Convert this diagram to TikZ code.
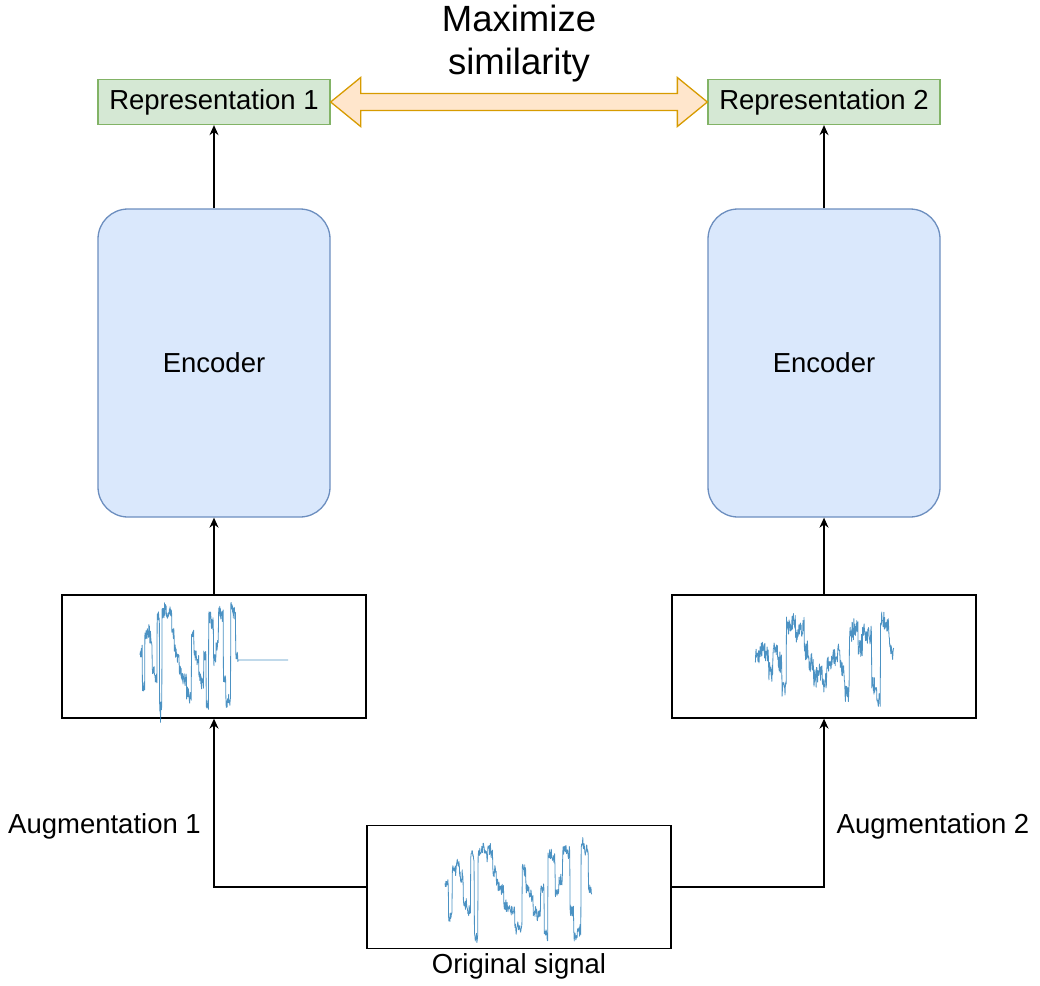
\documentclass[tikz,border=0pt]{standalone}
\usepackage{fontspec}
\setmainfont{Liberation Sans}
\usetikzlibrary{arrows.meta}

\definecolor{repfill}{HTML}{D5E8D4}
\definecolor{repline}{HTML}{82B366}
\definecolor{encfill}{HTML}{DAE8FC}
\definecolor{encline}{HTML}{6C8EBF}
\definecolor{simfill}{HTML}{FFE6CC}
\definecolor{simline}{HTML}{D79B00}
\definecolor{trace}{RGB}{31,119,180}

% signal levels (0 = bottom, 1 = top of the trace band)
\def\origlv{{0.55,0.22,0.7,0.75,0.65,0.35,0.3,0.85,0.03,0.9,0.92,0.88,0.9,0.7,0.55,0.5,0.35,0.3,0.28,0.15,0.12,0.7,0.5,0.45,0.3,0.25,0.5,0.05,0.85,0.8,0.45,0.6,0.9,0.88,0.3,0.05,0.1,0.95,0.9,0.5,0.5}}
\def\augtwolv{{0.5,0.6,0.55,0.35,0.6,0.45,0.15,0.8,0.85,0.75,0.8,0.55,0.45,0.3,0.35,0.25,0.45,0.5,0.55,0.4,0.15,0.75,0.8,0.6,0.75,0.7,0.2,0.1,0.85,0.8,0.55,0.55}}

\tikzset{
  base/.style={font=\fontsize{27.5}{33}\selectfont, inner sep=0pt},
  repbox/.style={base, draw=repline, fill=repfill, line width=1.3pt,
    minimum width=232pt, minimum height=45pt},
  encbox/.style={base, draw=encline, fill=encfill, line width=1.3pt,
    rounded corners=30pt, minimum width=232pt, minimum height=308pt},
  sigbox/.style={draw=black, line width=1.3pt, inner sep=0pt,
    minimum width=304pt, minimum height=123pt},
  lbl/.style={base},
  flow/.style={draw=black, line width=1.3pt, -{Stealth[length=10pt,width=9pt]}},
  sig/.style={draw=trace, line width=0.8pt, opacity=0.8, line join=round},
}

\begin{document}
\begin{tikzpicture}[x=1pt, y=-1pt]
\path[use as bounding box] (0,0) rectangle (1040,985);

% representations
\node[repbox] (rep1) at (214,102) {Representation 1};
\node[repbox] (rep2) at (824,102) {Representation 2};

% encoders
\node[encbox] (enc1) at (214,363) {Encoder};
\node[encbox] (enc2) at (824,363) {Encoder};

% signal panels
\node[sigbox] (aug1) at (214,656.5) {};
\node[sigbox] (aug2) at (824,656.5) {};
\node[sigbox] (orig) at (519,887) {};

% texts
\node[base, font=\fontsize{36.5}{43}\selectfont, align=center] (maxsim) at (519,44)
  {Maximize\\similarity};
\node[lbl] (lab1) at (104.5,826) {Augmentation 1};
\node[lbl] (lab2) at (933,826) {Augmentation 2};
\node[lbl] (labo) at (519,966) {Original signal};

% double arrow between the representations
\coordinate (tipL) at (rep1.east);
\coordinate (tipR) at (rep2.west);
\filldraw[draw=simline, fill=simfill, line width=1.3pt, line join=miter]
  (tipL) -- ([xshift=30pt,yshift=-24.5pt]tipL) -- ([xshift=30pt,yshift=-8.5pt]tipL)
  -- ([xshift=-30pt,yshift=-8.5pt]tipR) -- ([xshift=-30pt,yshift=-24.5pt]tipR)
  -- (tipR) -- ([xshift=-30pt,yshift=24.5pt]tipR) -- ([xshift=-30pt,yshift=8.5pt]tipR)
  -- ([xshift=30pt,yshift=8.5pt]tipL) -- ([xshift=30pt,yshift=24.5pt]tipL) -- cycle;

% vertical flow
\draw[flow] (enc1.north) -- (rep1.south);
\draw[flow] (enc2.north) -- (rep2.south);
\draw[flow] (aug1.north) -- (enc1.south);
\draw[flow] (aug2.north) -- (enc2.south);
\draw[flow] (orig.west) -| (aug1.south);
\draw[flow] (orig.east) -| (aug2.south);

% original signal trace
\pgfmathsetseed{11}
\draw[sig] plot[variable=\t, domain=0:39.95, samples=360]
  ({445+\t*147/40}, {940-100*(\origlv[int(\t)]+0.06*rand+0.22*rand*rand*rand*rand*rand)});

% augmentation 1: compressed trace padded with a constant
\pgfmathsetseed{23}
\draw[sig] plot[variable=\t, domain=0:39.95, samples=320]
  ({140+\t*98/40}, {710-108*(\origlv[int(\t)]+0.06*rand+0.22*rand*rand*rand*rand*rand)})
  -- (238,660) -- (288,660);

% augmentation 2: noisy trace
\pgfmathsetseed{37}
\draw[sig] plot[variable=\t, domain=0:30.95, samples=380]
  ({755+\t*139/31}, {707-100*(\augtwolv[int(\t)]+0.1*rand+0.22*rand*rand*rand*rand*rand)});
\end{tikzpicture}
\end{document}
